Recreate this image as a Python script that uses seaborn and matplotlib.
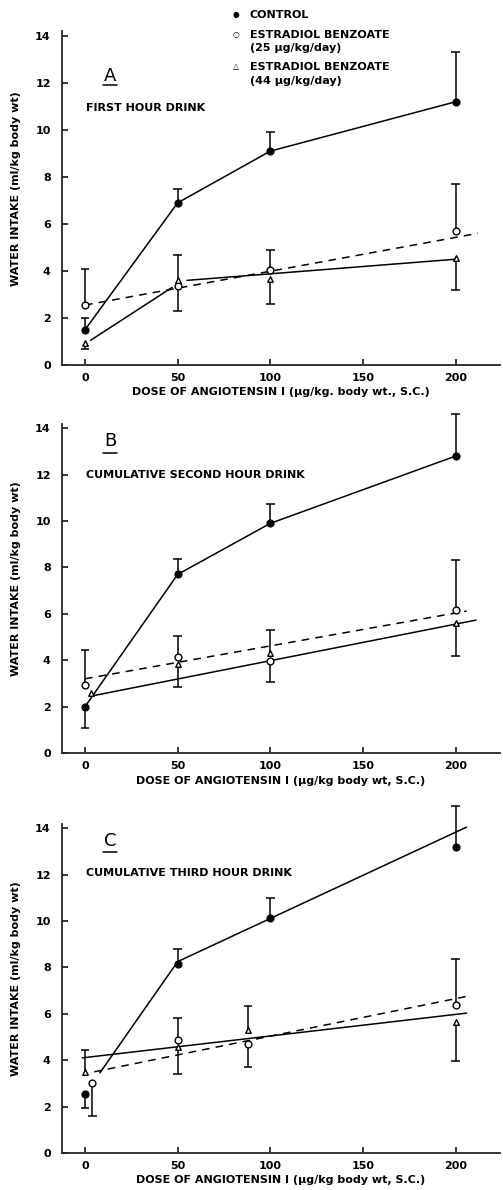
import numpy as np
import seaborn as sns
import matplotlib.pyplot as plt

# doses (ug/kg) and group means, per panel
DOSES = [0, 50, 100, 200]

# panel A: first hour
a_ctrl_y = [1.5, 6.9, 9.1, 11.2]
a_ctrl_err = [2.0, 7.5, 9.9, 13.3]
a_eb25_x = [0, 50, 100, 200]
a_eb25_y = [2.55, 3.35, 4.05, 5.7]
a_eb25_err = [4.1, 2.3, 4.9, 7.7]
a_eb44_x = [0, 50, 100, 200]
a_eb44_y = [0.95, 3.6, 3.65, 4.55]
a_eb44_err = [0.7, 4.7, 2.6, 3.2]

# panel B: cumulative second hour
b_ctrl_y = [2.0, 7.7, 9.9, 12.8]
b_ctrl_err = [1.1, 8.35, 10.75, 14.6]
b_eb25_x = [0, 50, 100, 200]
b_eb25_y = [2.95, 4.15, 3.95, 6.15]
b_eb25_err = [4.45, 5.05, 3.05, 8.3]
b_eb44_x = [3, 50, 100, 200]
b_eb44_y = [2.6, 3.85, 4.3, 5.6]
b_eb44_err = [np.nan, 2.85, 5.3, 4.2]

# panel C: cumulative third hour
c_ctrl_y = [2.55, 8.15, 10.15, 13.2]
c_ctrl_err = [1.95, 8.8, 11.0, 14.95]
c_eb25_x = [4, 50, 88, 200]
c_eb25_y = [3.0, 4.85, 4.7, 6.4]
c_eb25_err = [1.6, 5.8, 3.7, 8.35]
c_eb44_x = [0, 50, 88, 200]
c_eb44_y = [3.5, 4.55, 5.3, 5.65]
c_eb44_err = [4.45, 3.4, 6.35, 3.95]

# fitted / connecting lines drawn in the original (x pairs, y pairs)
a_fit25 = ([0, 212], [2.55, 5.6])
a_fit44 = [([3, 47], [1.05, 3.3]), ([55, 200], [3.6, 4.5])]
b_fit25 = ([0, 206], [3.2, 6.12])
b_fit44 = [([3, 211], [2.45, 5.73])]
c_fitctrl = [([8, 50], [3.45, 8.25]), ([50, 206], [8.25, 14.05])]
c_fit25 = ([5, 206], [3.5, 6.75])
c_fit44 = [([-1.5, 206], [4.1, 6.03])]

PANELS = [
    dict(letter="A", title="FIRST HOUR DRINK",
         ctrl=(DOSES, a_ctrl_y, a_ctrl_err), eb25=(a_eb25_x, a_eb25_y, a_eb25_err),
         eb44=(a_eb44_x, a_eb44_y, a_eb44_err), ctrl_lines=None,
         fit25=a_fit25, fit44=a_fit44, let_y=12.3, ul_y=11.9, title_y=10.93,
         xlabel="DOSE OF ANGIOTENSIN I (\u00b5g/kg. body wt., S.C.)",
         rect=[0.123, 0.6933, 0.871, 0.2962]),
    dict(letter="B", title="CUMULATIVE SECOND HOUR DRINK",
         ctrl=(DOSES, b_ctrl_y, b_ctrl_err), eb25=(b_eb25_x, b_eb25_y, b_eb25_err),
         eb44=(b_eb44_x, b_eb44_y, b_eb44_err), ctrl_lines=None,
         fit25=b_fit25, fit44=b_fit44, let_y=13.45, ul_y=12.95, title_y=12.0,
         xlabel="DOSE OF ANGIOTENSIN I (\u00b5g/kg body wt, S.C.)",
         rect=[0.123, 0.3672, 0.871, 0.2924]),
    dict(letter="C", title="CUMULATIVE THIRD HOUR DRINK",
         ctrl=(DOSES, c_ctrl_y, c_ctrl_err), eb25=(c_eb25_x, c_eb25_y, c_eb25_err),
         eb44=(c_eb44_x, c_eb44_y, c_eb44_err), ctrl_lines=c_fitctrl,
         fit25=c_fit25, fit44=c_fit44, let_y=13.45, ul_y=12.97, title_y=12.05,
         xlabel="DOSE OF ANGIOTENSIN I (\u00b5g/kg body wt, S.C.)",
         rect=[0.123, 0.0311, 0.871, 0.2924]),
]

sns.set_style("ticks")
plt.rcParams["font.family"] = ["DejaVu Sans"]
plt.rcParams["text.color"] = "black"
plt.rcParams["axes.labelcolor"] = "black"
plt.rcParams["xtick.color"] = "black"
plt.rcParams["ytick.color"] = "black"
FS = 8
FW = "bold"
LW = 1.1


def draw_err(ax, xs, ys, ends):
    for x, y, e in zip(xs, ys, ends):
        if np.isnan(e):
            continue
        ax.vlines(x, y, e, color="black", lw=LW, zorder=2)
        ax.hlines(e, x - 2.3, x + 2.3, color="black", lw=LW, zorder=2)


fig = plt.figure(figsize=(5.03, 11.90), dpi=100)

for p in PANELS:
    ax = fig.add_axes(p["rect"])
    cx, cy, ce = p["ctrl"]
    x25, y25, e25 = p["eb25"]
    x44, y44, e44 = p["eb44"]

    # control line
    if p["ctrl_lines"] is None:
        sns.lineplot(x=cx, y=cy, ax=ax, color="black", lw=LW, estimator=None, sort=False)
    else:
        for lx, ly in p["ctrl_lines"]:
            sns.lineplot(x=lx, y=ly, ax=ax, color="black", lw=LW, estimator=None, sort=False)
    # regression lines of the treated groups
    fx, fy = p["fit25"]
    sns.lineplot(x=fx, y=fy, ax=ax, color="black", lw=LW, estimator=None, sort=False,
                 linestyle=(0, (5, 4)))
    for lx, ly in p["fit44"]:
        sns.lineplot(x=lx, y=ly, ax=ax, color="black", lw=LW, estimator=None, sort=False)

    draw_err(ax, cx, cy, ce)
    draw_err(ax, x25, y25, e25)
    draw_err(ax, x44, y44, e44)

    sns.scatterplot(x=cx, y=cy, ax=ax, marker="o", s=26, color="black",
                    edgecolor="black", linewidth=0.8, zorder=4)
    sns.scatterplot(x=x25, y=y25, ax=ax, marker="o", s=24, color="white",
                    edgecolor="black", linewidth=1.0, zorder=4)
    sns.scatterplot(x=x44, y=y44, ax=ax, marker="^", s=16, color="white",
                    edgecolor="black", linewidth=1.0, zorder=4)

    ax.set_xlim(-12.5, 224)
    ax.set_ylim(0, 15)
    ax.set_xticks([0, 50, 100, 150, 200])
    ax.set_yticks([0, 2, 4, 6, 8, 10, 12, 14])
    ax.spines["top"].set_visible(False)
    ax.spines["right"].set_visible(False)
    ax.spines["left"].set_bounds(0, 14.2)
    for s in ("left", "bottom"):
        ax.spines[s].set_linewidth(1.3)
    ax.tick_params(direction="in", length=4, width=1.1, labelsize=FS)
    ax.tick_params(axis="y", pad=8)
    ax.tick_params(axis="x", pad=6)
    for lab in ax.get_xticklabels() + ax.get_yticklabels():
        lab.set_fontweight(FW)
    ax.set_xlabel(p["xlabel"], fontsize=FS, fontweight=FW, labelpad=3)
    ax.set_ylabel("WATER INTAKE (ml/kg body wt)", fontsize=FS, fontweight=FW, labelpad=10)

    ax.text(13.5, p["let_y"], p["letter"], fontsize=13, ha="center", va="center")
    ax.plot([9.5, 17.5], [p["ul_y"], p["ul_y"]], color="black", lw=1.1)
    ax.text(0.5, p["title_y"], p["title"], fontsize=FS, fontweight=FW, va="center")

# legend block at top of the first panel
leg_rows = [("\u25cf", "CONTROL", 0.9874),
            ("\u25cb", "ESTRADIOL BENZOATE", 0.9706),
            (None, "(25 \u00b5g/kg/day)", 0.9597),
            ("\u25b3", "ESTRADIOL BENZOATE", 0.9437),
            (None, "(44 \u00b5g/kg/day)", 0.9319)]
for sym, txt, yy in leg_rows:
    if sym:
        fig.text(0.469, yy, sym, fontsize=5.5, ha="center", va="center")
    fig.text(0.497, yy, txt, fontsize=FS, fontweight=FW, va="center")

fig.savefig("out.png", dpi=100)
